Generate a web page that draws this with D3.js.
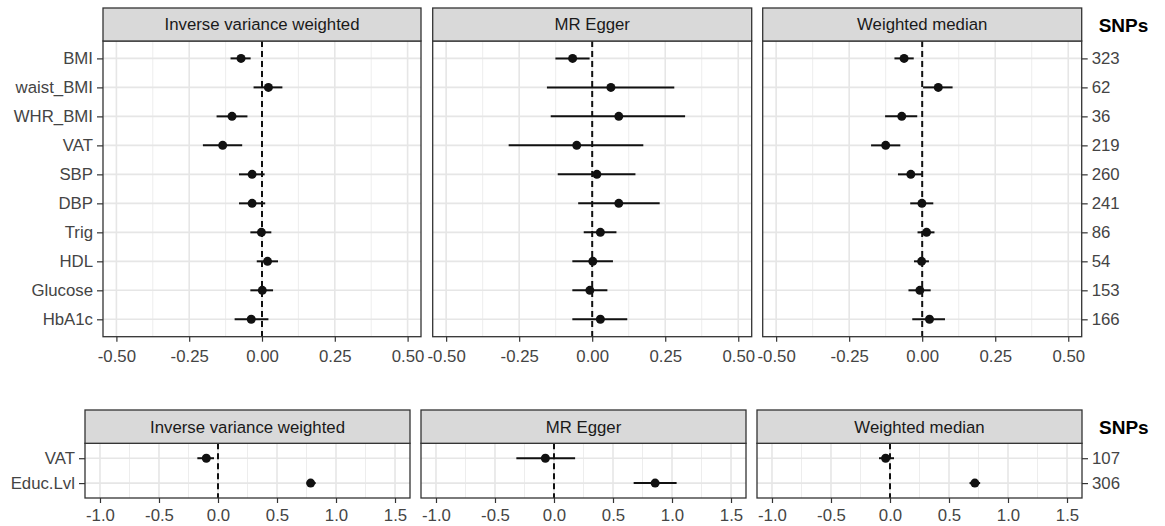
<!DOCTYPE html>
<html><head><meta charset="utf-8">
<script src="https://cdn.jsdelivr.net/npm/d3@7"></script>
<style>body{margin:0;background:#fff}svg{display:block}text{font-family:"Liberation Sans",Arial,Helvetica,sans-serif}</style>
</head><body><svg id="c" width="1165" height="526"></svg>
<script>
// ---------- data ----------
const methods = ["Inverse variance weighted", "MR Egger", "Weighted median"];

const topExposures = ["BMI","waist_BMI","WHR_BMI","VAT","SBP","DBP","Trig","HDL","Glucose","HbA1c"];
const topSNPs = [323, 62, 36, 219, 260, 241, 86, 54, 153, 166];
const topIVW_est = [-0.072, 0.022, -0.103, -0.135, -0.034, -0.034, -0.002, 0.019, 0.001, -0.037];
const topIVW_lo  = [-0.108, -0.029, -0.156, -0.203, -0.079, -0.079, -0.040, -0.018, -0.040, -0.094];
const topIVW_hi  = [-0.039, 0.070, -0.050, -0.068, 0.009, 0.011, 0.032, 0.055, 0.038, 0.022];
const topEgger_est = [-0.067, 0.064, 0.091, -0.053, 0.016, 0.091, 0.028, 0.002, -0.008, 0.028];
const topEgger_lo  = [-0.126, -0.155, -0.142, -0.286, -0.118, -0.048, -0.029, -0.068, -0.068, -0.068];
const topEgger_hi  = [-0.009, 0.281, 0.318, 0.175, 0.148, 0.231, 0.083, 0.071, 0.052, 0.120];
const topWM_est = [-0.062, 0.055, -0.070, -0.125, -0.039, -0.001, 0.015, -0.002, -0.008, 0.025];
const topWM_lo  = [-0.095, 0.003, -0.127, -0.175, -0.083, -0.041, -0.016, -0.028, -0.047, -0.034];
const topWM_hi  = [-0.029, 0.104, -0.017, -0.075, 0.000, 0.038, 0.042, 0.023, 0.029, 0.078];
const topTicks = [-0.50, -0.25, 0.00, 0.25, 0.50];
const topMinor = [-0.375, -0.125, 0.125, 0.375];
const topDomain = [-0.546, 0.546];

const botExposures = ["VAT","Educ.Lvl"];
const botSNPs = [107, 306];
const botIVW_est = [-0.099, 0.785];
const botIVW_lo  = [-0.175, 0.751];
const botIVW_hi  = [-0.034, 0.828];
const botEgger_est = [-0.073, 0.857];
const botEgger_lo  = [-0.319, 0.675];
const botEgger_hi  = [0.179, 1.039];
const botWM_est = [-0.037, 0.719];
const botWM_lo  = [-0.093, 0.674];
const botWM_hi  = [0.034, 0.764];
const botTicks = [-1.0, -0.5, 0.0, 0.5, 1.0, 1.5];
const botMinor = [-0.75, -0.25, 0.25, 0.75, 1.25];
const botDomain = [-1.127, 1.627];

// ---------- drawing ----------
const svg = d3.select("#c");
const FS = 16.8;
const TXT = "#444";

function block(cfg) {
  const {exposures, snps, series, ticks, minor, domain, panels, top, stripH, bottom, fmt, xpad} = cfg;
  const y = d3.scalePoint().domain(exposures).range([top + stripH, bottom]).padding(0.6);
  panels.forEach((p, i) => {
    const g = svg.append("g");
    const x = d3.scaleLinear().domain(domain).range([p[0], p[1]]);
    const pt = top + stripH;
    g.append("rect").attr("x", p[0]).attr("y", pt).attr("width", p[1]-p[0]).attr("height", bottom-pt).attr("fill", "#fff");
    g.selectAll(".mn").data(minor).join("line")
      .attr("x1", d => x(d)).attr("x2", d => x(d)).attr("y1", pt).attr("y2", bottom)
      .attr("stroke", "#ebebeb").attr("stroke-width", 0.9);
    g.selectAll(".mj").data(ticks).join("line")
      .attr("x1", d => x(d)).attr("x2", d => x(d)).attr("y1", pt).attr("y2", bottom)
      .attr("stroke", "#e6e6e6").attr("stroke-width", 1.6);
    g.selectAll(".hy").data(exposures).join("line")
      .attr("x1", p[0]).attr("x2", p[1]).attr("y1", d => y(d)).attr("y2", d => y(d))
      .attr("stroke", "#e6e6e6").attr("stroke-width", 1.6);
    g.append("line").attr("x1", x(0)).attr("x2", x(0)).attr("y1", pt).attr("y2", bottom)
      .attr("stroke", "#111").attr("stroke-width", 2).attr("stroke-dasharray", "6,4");
    const s = series[i];
    const rows = exposures.map((e, k) => ({e, est: s[0][k], lo: s[1][k], hi: s[2][k]}));
    g.selectAll(".eb").data(rows).join("line")
      .attr("x1", d => x(d.lo)).attr("x2", d => x(d.hi)).attr("y1", d => y(d.e)).attr("y2", d => y(d.e))
      .attr("stroke", "#111").attr("stroke-width", 2);
    g.selectAll(".pt").data(rows).join("circle")
      .attr("cx", d => x(d.est)).attr("cy", d => y(d.e)).attr("r", 4.5).attr("fill", "#111");
    g.append("rect").attr("x", p[0]).attr("y", pt).attr("width", p[1]-p[0]).attr("height", bottom-pt)
      .attr("fill", "none").attr("stroke", "#333").attr("stroke-width", 1.3);
    g.append("rect").attr("x", p[0]).attr("y", top).attr("width", p[1]-p[0]).attr("height", stripH)
      .attr("fill", "#d9d9d9").attr("stroke", "#333").attr("stroke-width", 1.3);
    g.append("text").attr("x", (p[0]+p[1])/2).attr("y", top + stripH/2).attr("dy", "0.35em")
      .attr("text-anchor", "middle").attr("font-size", FS).attr("fill", "#1a1a1a").text(methods[i]);
    const ax = g.append("g").attr("transform", `translate(0,${bottom})`)
      .call(d3.axisBottom(x).tickValues(ticks).tickSize(5).tickPadding(xpad).tickFormat(fmt));
    ax.select(".domain").remove();
    ax.selectAll("line").attr("stroke", "#333").attr("stroke-width", 1.2);
    ax.selectAll("text").attr("font-size", FS).attr("fill", TXT).attr("font-family", "Liberation Sans, Arial, sans-serif");
    if (i === 0) {
      const ay = g.append("g").attr("transform", `translate(${p[0]},0)`)
        .call(d3.axisLeft(y).tickSize(6).tickPadding(4));
      ay.select(".domain").remove();
      ay.selectAll("line").attr("stroke", "#333").attr("stroke-width", 1.2);
      ay.selectAll("text").attr("font-size", FS).attr("fill", TXT).attr("font-family", "Liberation Sans, Arial, sans-serif");
    }
    if (i === panels.length - 1) {
      const ys = d3.scalePoint().domain(snps.map(String)).range(y.range()).padding(0.6);
      const ar = g.append("g").attr("transform", `translate(${p[1]},0)`)
        .call(d3.axisRight(ys).tickSize(6).tickPadding(4));
      ar.select(".domain").remove();
      ar.selectAll("line").attr("stroke", "#333").attr("stroke-width", 1.2);
      ar.selectAll("text").attr("font-size", FS).attr("fill", TXT).attr("font-family", "Liberation Sans, Arial, sans-serif");
      g.append("text").attr("x", p[1] + 17).attr("y", top + stripH/2 + 7).attr("font-size", 19)
        .attr("font-weight", "bold").attr("fill", "#000").text("SNPs");
    }
  });
}

const hy = f => d => f(d).replace("\u2212", "-");

block({
  exposures: topExposures, snps: topSNPs,
  series: [[topIVW_est, topIVW_lo, topIVW_hi],[topEgger_est, topEgger_lo, topEgger_hi],[topWM_est, topWM_lo, topWM_hi]],
  ticks: topTicks, minor: topMinor, domain: topDomain,
  panels: [[103, 421], [432.7, 751.7], [762.7, 1081.7]],
  top: 8, stripH: 33, bottom: 336.7, fmt: hy(d3.format(".2f")), xpad: 8
});
block({
  exposures: botExposures, snps: botSNPs,
  series: [[botIVW_est, botIVW_lo, botIVW_hi],[botEgger_est, botEgger_lo, botEgger_hi],[botWM_est, botWM_lo, botWM_hi]],
  ticks: botTicks, minor: botMinor, domain: botDomain,
  panels: [[85, 410], [421, 746], [757, 1082]],
  top: 410, stripH: 33.3, bottom: 498, fmt: hy(d3.format(".1f")), xpad: 6
});
</script></body></html>
